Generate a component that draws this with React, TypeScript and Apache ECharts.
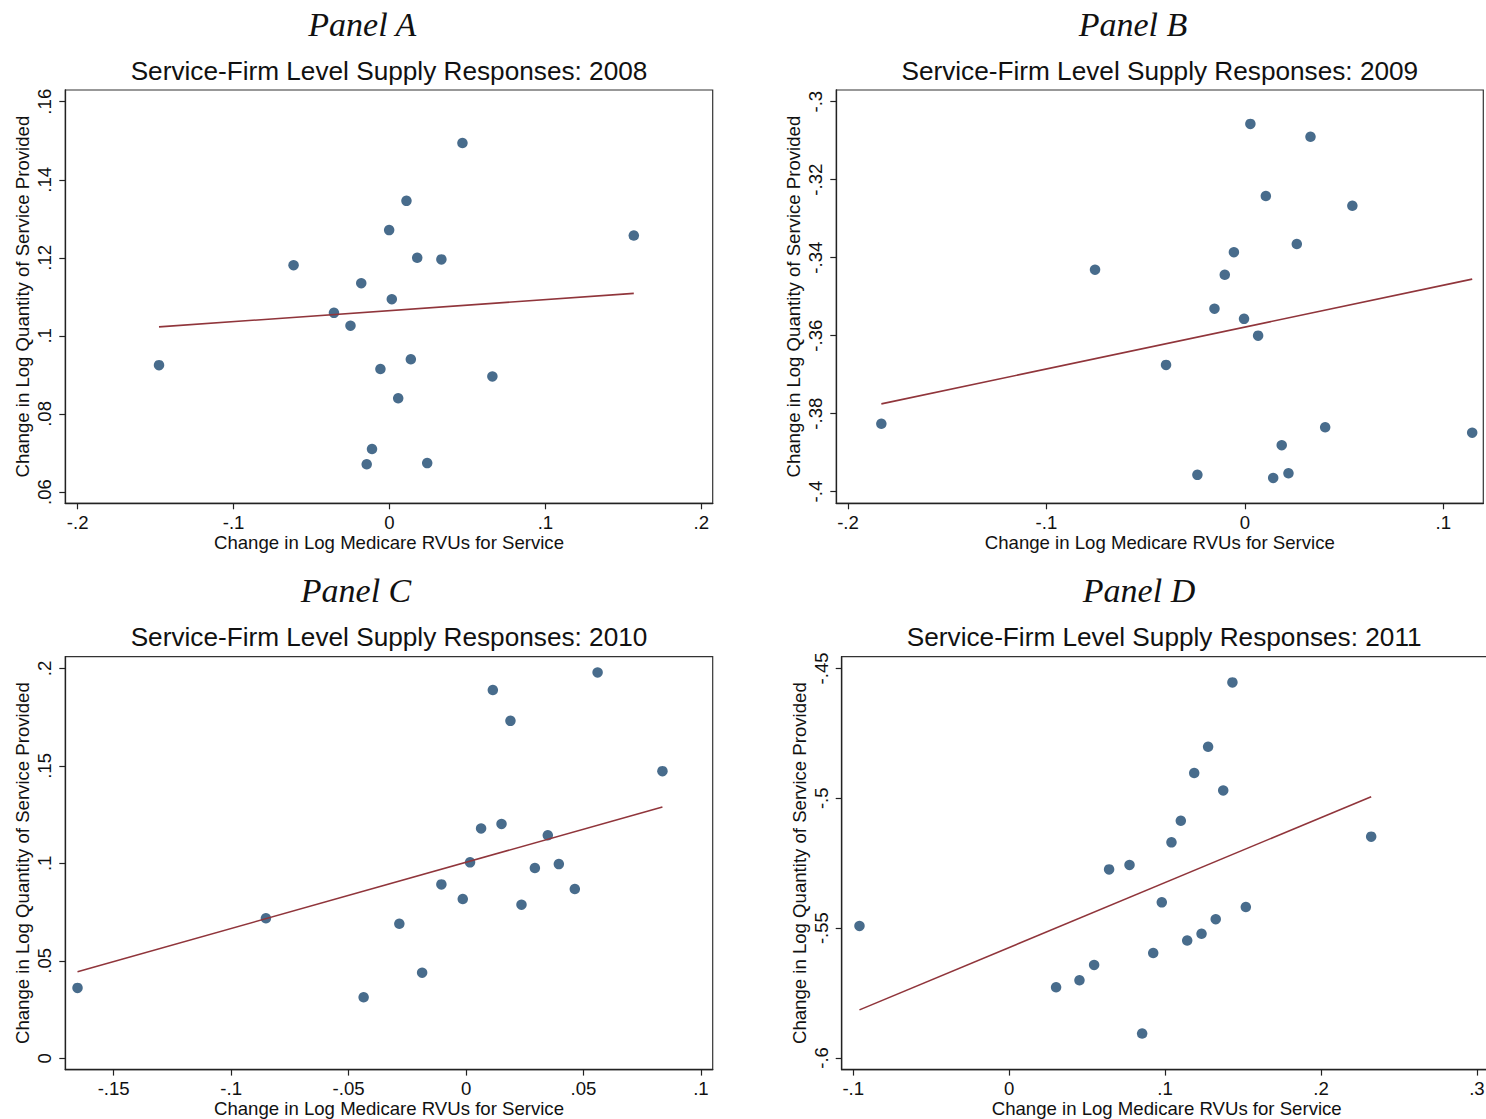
import React, { useEffect, useRef } from "react";
import * as echarts from "echarts";

// ---------- Data ----------
const panelTitles = ["Panel A", "Panel B", "Panel C", "Panel D"];
const subTitles = [
  "Service-Firm Level Supply Responses: 2008",
  "Service-Firm Level Supply Responses: 2009",
  "Service-Firm Level Supply Responses: 2010",
  "Service-Firm Level Supply Responses: 2011",
];
const xAxisName = "Change in Log Medicare RVUs for Service";
const yAxisName = "Change in Log Quantity of Service Provided";

// Panel A (2008)
const aX = [-0.1478, -0.0615, -0.0356, -0.025, -0.0181, -0.0112, -0.0146, -0.0058, 0.0468, 0.0109, -0.0002, 0.0178, 0.0333, 0.0015, 0.1567, 0.0137, 0.066, 0.0056, 0.0242];
const aY = [0.0925, 0.1181, 0.1059, 0.1026, 0.1135, 0.071, 0.0671, 0.0915, 0.1494, 0.1346, 0.1271, 0.12, 0.1196, 0.1094, 0.1257, 0.094, 0.0896, 0.084, 0.0674];
const aFitX = [-0.1478, 0.1567];
const aFitY = [0.1023, 0.1109];

// Panel B (2009)
const bX = [-0.0755, -0.1832, 0.0028, 0.0331, 0.0106, 0.0542, 0.0262, -0.0055, -0.0101, -0.0153, -0.0004, 0.0067, -0.0397, 0.0405, 0.1146, 0.0186, -0.0239, 0.0143, 0.022];
const bY = [-0.3431, -0.3826, -0.3057, -0.309, -0.3242, -0.3267, -0.3365, -0.3386, -0.3444, -0.3531, -0.3557, -0.36, -0.3675, -0.3835, -0.3849, -0.3881, -0.3957, -0.3965, -0.3953];
const bFitX = [-0.1832, 0.1146];
const bFitY = [-0.3775, -0.3455];

// Panel C (2010)
const cX = [-0.1654, -0.0852, -0.0436, 0.056, 0.0114, 0.0189, 0.0836, 0.0064, 0.0151, 0.0348, 0.0017, 0.0293, 0.0395, -0.0105, -0.0014, 0.0236, 0.0463, -0.0284, -0.0187];
const cY = [0.0361, 0.0718, 0.0313, 0.1979, 0.1889, 0.1731, 0.1473, 0.1179, 0.1202, 0.1144, 0.1005, 0.0976, 0.0996, 0.0892, 0.0817, 0.0788, 0.0868, 0.069, 0.0439];
const cFitX = [-0.1654, 0.0836];
const cFitY = [0.0444, 0.1289];

// Panel D (2011)
const dX = [-0.096, 0.0641, 0.0772, 0.0545, 0.0451, 0.0301, 0.0853, 0.1432, 0.1276, 0.1187, 0.1373, 0.1101, 0.1041, 0.2322, 0.0979, 0.1518, 0.1325, 0.1234, 0.1142, 0.0924];
const dY = [-0.5492, -0.5274, -0.5257, -0.5642, -0.5701, -0.5728, -0.5906, -0.4554, -0.4802, -0.4903, -0.497, -0.5087, -0.517, -0.5148, -0.5401, -0.5419, -0.5466, -0.5522, -0.5548, -0.5596];
const dFitX = [-0.096, 0.2322];
const dFitY = [-0.5815, -0.4994];

// Tick values and labels
const aXTicks = [-0.2, -0.1, 0, 0.1, 0.2];
const aXLabels = ["-.2", "-.1", "0", ".1", ".2"];
const aYTicks = [0.06, 0.08, 0.1, 0.12, 0.14, 0.16];
const aYLabels = [".06", ".08", ".1", ".12", ".14", ".16"];

const bXTicks = [-0.2, -0.1, 0, 0.1];
const bXLabels = ["-.2", "-.1", "0", ".1"];
const bYTicks = [-0.4, -0.38, -0.36, -0.34, -0.32, -0.3];
const bYLabels = ["-.4", "-.38", "-.36", "-.34", "-.32", "-.3"];

const cXTicks = [-0.15, -0.1, -0.05, 0, 0.05, 0.1];
const cXLabels = ["-.15", "-.1", "-.05", "0", ".05", ".1"];
const cYTicks = [0, 0.05, 0.1, 0.15, 0.2];
const cYLabels = ["0", ".05", ".1", ".15", ".2"];

const dXTicks = [-0.1, 0, 0.1, 0.2, 0.3];
const dXLabels = ["-.1", "0", ".1", ".2", ".3"];
const dYTicks = [-0.6, -0.55, -0.5, -0.45];
const dYLabels = ["-.6", "-.55", "-.5", "-.45"];

// Axis ranges (plot region extents)
const aXRange = [-0.2079, 0.2073];
const aYRange = [0.0571, 0.163];
const bXRange = [-0.2059, 0.1202];
const bYRange = [-0.403, -0.297];
const cXRange = [-0.1706, 0.105];
const cYRange = [-0.0058, 0.206];
const dXRange = [-0.1074, 0.3095];
const dYRange = [-0.6045, -0.4455];

// ---------- Styling / layout ----------
const SANS = "'Liberation Sans', Arial, Helvetica, sans-serif";
const SERIF = "'Liberation Serif', 'Times New Roman', serif";
const DOT = "#1a476f";
const FIT = "#90353b";
const AXIS = "#222222";
const LABEL_SIZE = 18.6;

const grids = [
  { left: 65.3, top: 90, width: 647.4, height: 413.3 },
  { left: 836.3, top: 90, width: 647, height: 413.3 },
  { left: 65.3, top: 656.7, width: 647.4, height: 413 },
  { left: 841.7, top: 656.7, width: 650, height: 413 },
];
const panelTitleX = [362.3, 1133, 356, 1139];
const panelTitleY = [24, 24, 590.7, 590.7];
const subTitleY = [70.5, 70.5, 637.2, 637.2];

function labeler(ticks: number[], labels: string[]) {
  return (v: number) => {
    const i = ticks.findIndex((t) => Math.abs(t - v) < 1e-7);
    return i >= 0 ? labels[i] : "";
  };
}

const panels = [
  { x: aX, y: aY, fx: aFitX, fy: aFitY, xt: aXTicks, xl: aXLabels, yt: aYTicks, yl: aYLabels, xr: aXRange, yr: aYRange },
  { x: bX, y: bY, fx: bFitX, fy: bFitY, xt: bXTicks, xl: bXLabels, yt: bYTicks, yl: bYLabels, xr: bXRange, yr: bYRange },
  { x: cX, y: cY, fx: cFitX, fy: cFitY, xt: cXTicks, xl: cXLabels, yt: cYTicks, yl: cYLabels, xr: cXRange, yr: cYRange },
  { x: dX, y: dY, fx: dFitX, fy: dFitY, xt: dXTicks, xl: dXLabels, yt: dYTicks, yl: dYLabels, xr: dXRange, yr: dYRange },
];

function buildOption() {
  const gridOpts = grids.map((g) => ({
    left: g.left,
    top: g.top,
    width: g.width,
    height: g.height,
    show: true,
    borderColor: "#333",
    borderWidth: 1.2,
    backgroundColor: "transparent",
  }));

  const xAxes = panels.map((p, i) => ({
    type: "value",
    gridIndex: i,
    min: p.xr[0],
    max: p.xr[1],
    name: xAxisName,
    nameLocation: "middle",
    nameGap: 27,
    nameTextStyle: { fontFamily: SANS, fontSize: LABEL_SIZE, color: "#111" },
    axisLine: { show: true, onZero: false, lineStyle: { color: AXIS, width: 1.3 } },
    axisTick: { show: true, length: 6, customValues: p.xt, lineStyle: { color: AXIS, width: 1.2 } },
    axisLabel: {
      customValues: p.xt,
      formatter: labeler(p.xt, p.xl),
      margin: 9.5,
      fontFamily: SANS,
      fontSize: LABEL_SIZE,
      color: "#111",
    },
    splitLine: { show: false },
  }));

  const yAxes = panels.map((p, i) => ({
    type: "value",
    gridIndex: i,
    min: p.yr[0],
    max: p.yr[1],
    name: yAxisName,
    nameLocation: "middle",
    nameRotate: 90,
    nameGap: 33,
    nameTextStyle: { fontFamily: SANS, fontSize: LABEL_SIZE, color: "#111" },
    axisLine: { show: true, onZero: false, lineStyle: { color: AXIS, width: 1.3 } },
    axisTick: { show: true, length: 6, customValues: p.yt, lineStyle: { color: AXIS, width: 1.2 } },
    axisLabel: {
      customValues: p.yt,
      formatter: labeler(p.yt, p.yl),
      rotate: 90,
      margin: 11,
      fontFamily: SANS,
      fontSize: LABEL_SIZE,
      color: "#111",
    },
    splitLine: { show: false },
  }));

  const series: any[] = [];
  panels.forEach((p, i) => {
    series.push({
      type: "scatter",
      xAxisIndex: i,
      yAxisIndex: i,
      symbol: "circle",
      symbolSize: 10.5,
      itemStyle: { color: DOT },
      data: p.x.map((xv, k) => [xv, p.y[k]]),
      z: 2,
    });
    series.push({
      type: "line",
      xAxisIndex: i,
      yAxisIndex: i,
      symbol: "none",
      lineStyle: { color: FIT, width: 1.6 },
      data: p.fx.map((xv, k) => [xv, p.fy[k]]),
      z: 3,
    });
  });

  const graphics: any[] = [];
  for (let i = 0; i < 4; i++) {
    graphics.push({
      type: "text",
      x: panelTitleX[i],
      y: panelTitleY[i],
      style: {
        text: panelTitles[i],
        fontFamily: SERIF,
        fontStyle: "italic",
        fontSize: 34,
        fill: "#111",
        align: "center",
        verticalAlign: "middle",
      },
    });
    graphics.push({
      type: "text",
      x: grids[i].left + grids[i].width / 2 - (i === 3 ? 2.5 : 0),
      y: subTitleY[i],
      style: {
        text: subTitles[i],
        fontFamily: SANS,
        fontSize: 26.2,
        fill: "#111",
        align: "center",
        verticalAlign: "middle",
      },
    });
  }

  return {
    animation: false,
    backgroundColor: "#ffffff",
    grid: gridOpts,
    xAxis: xAxes,
    yAxis: yAxes,
    series,
    graphic: graphics,
  };
}

export default function App() {
  const ref = useRef<HTMLDivElement>(null);
  useEffect(() => {
    if (!ref.current) return;
    const chart = echarts.init(ref.current, undefined, { renderer: "svg" });
    chart.setOption(buildOption() as any);
    return () => chart.dispose();
  }, []);
  return (
    <div
      style={{
        position: "fixed",
        left: 0,
        top: 0,
        width: 1486,
        height: 1119,
        overflow: "hidden",
        background: "#fff",
      }}
    >
      <div ref={ref} style={{ width: 1500, height: 1119 }} />
    </div>
  );
}
